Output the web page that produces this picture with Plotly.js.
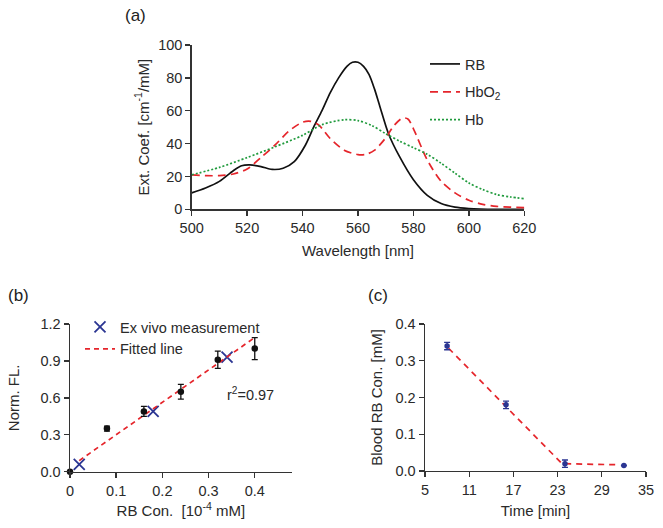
<!DOCTYPE html>
<html>
<head>
<meta charset="utf-8">
<script src="https://cdn.plot.ly/plotly-3.0.1.min.js"></script>
<style>html,body{margin:0;padding:0;background:#fff;}#chart{width:663px;height:528px;}</style>
</head>
<body>
<div id="chart"></div>
<script>
// ---- Panel (a): extinction spectra ----
const wlRB = [500,505,510,515,518,521,525,529,533,537,541,544,547,550,553,556,558,560,562,564,566,568,571,575,580,585,590,595,600,610,620];
const rbExt = [10,13,17,23.5,26.5,27,26,24.3,25,29,39,50,60,71,80,87,89.5,89.5,87,82,73,62,46,32,18,8.5,3.5,1.3,0.5,0,0];
const wlHbO2 = [500,505,510,515,520,525,530,535,540,543,546,550,555,560,563,566,570,573,576,578,580,585,590,595,600,605,610,615,620];
const hbo2Ext = [21,20.5,20.5,21.5,24.5,31.5,39,47.5,53,53.5,51,43,36,33.3,33.5,36,43.5,51,55.5,55,49,30,17,10,5.5,3,1.8,1.3,1];
const wlHb = [500,510,520,530,540,547,555,560,565,570,575,580,585,590,595,600,605,610,615,620];
const hbExt = [21,25.5,31.5,38,45,51.5,54.5,54,51,46,41.5,37.5,33.5,28,22,16,12,9,7.5,6.5];

// ---- Panel (b): fluorescence calibration ----
const rbCon = [0,0.08,0.16,0.24,0.32,0.40];
const normFL = [0,0.35,0.49,0.65,0.91,1.00];
const normFLerr = [0,0.02,0.04,0.06,0.07,0.09];
const exVivoX = [0.02,0.18,0.34];
const exVivoY = [0.06,0.49,0.93];
const fitX = [0.02,0.40];
const fitY = [0.09,1.09];

// ---- Panel (c): blood concentration vs time ----
const timeMin = [8,16,24,32];
const bloodCon = [0.34,0.18,0.02,0.015];
const bloodErr = [0.01,0.01,0.01,0];
const timeFitX = [8.2,23.6,31];
const timeFitY = [0.334,0.02,0.017];

const W = 663, H = 528;
const px = v => v / W;
const py = v => 1 - v / H;

const RED = '#e5252b', GREEN = '#1f9a3c', NAVY = '#2b3592', AX = '#333333';
const FONT = 'Liberation Sans, Arial, sans-serif';

const traces = [
  {x: wlRB, y: rbExt, name: 'RB', type: 'scatter', mode: 'lines', line: {color: '#111', width: 1.7, shape: 'spline', smoothing: 0.8}, xaxis: 'x', yaxis: 'y', legend: 'legend'},
  {x: wlHbO2, y: hbo2Ext, name: 'HbO<sub>2</sub>', type: 'scatter', mode: 'lines', line: {color: RED, width: 1.7, dash: '8px,5px', shape: 'spline', smoothing: 0.8}, xaxis: 'x', yaxis: 'y', legend: 'legend', legendgroup: 'g2'},
  {x: wlHb, y: hbExt, name: 'Hb', type: 'scatter', mode: 'lines', line: {color: GREEN, width: 1.7, dash: '2px,2px', shape: 'spline', smoothing: 0.8}, xaxis: 'x', yaxis: 'y', legend: 'legend', legendgroup: 'g3'},

  {x: exVivoX, y: exVivoY, name: 'Ex vivo measurement', type: 'scatter', mode: 'markers', marker: {symbol: 'x-thin', size: 11, line: {color: NAVY, width: 1.8}, color: NAVY}, xaxis: 'x2', yaxis: 'y2', legend: 'legend2', cliponaxis: false},
  {x: fitX, y: fitY, name: 'Fitted line', type: 'scatter', mode: 'lines', line: {color: RED, width: 1.7, dash: '5px,4px'}, xaxis: 'x2', yaxis: 'y2', legend: 'legend2'},
  {x: rbCon, y: normFL, name: 'data', showlegend: false, type: 'scatter', mode: 'markers', marker: {color: '#111', size: 6.5}, error_y: {type: 'data', array: normFLerr, color: '#111', thickness: 1.3, width: 3}, xaxis: 'x2', yaxis: 'y2', cliponaxis: false},

  {x: timeFitX, y: timeFitY, name: 'fit', showlegend: false, type: 'scatter', mode: 'lines', line: {color: RED, width: 1.7, dash: '6px,5px'}, xaxis: 'x3', yaxis: 'y3'},
  {x: timeMin, y: bloodCon, name: 'blood', showlegend: false, type: 'scatter', mode: 'markers', marker: {color: NAVY, size: 5.5}, error_y: {type: 'data', array: bloodErr, color: NAVY, thickness: 1.3, width: 3}, xaxis: 'x3', yaxis: 'y3', cliponaxis: false}
];

const axBase = {showline: true, linecolor: AX, linewidth: 1.4, ticks: 'outside', ticklen: 5, tickwidth: 1.4, tickcolor: AX, showgrid: false, zeroline: false, mirror: false, tickfont: {family: FONT, size: 14.5, color: '#2a2a2a'}, automargin: false};
const titleFont = {family: FONT, size: 15, color: '#2a2a2a'};

const layout = {
  width: W, height: H,
  margin: {l: 0, r: 0, t: 0, b: 0},
  paper_bgcolor: '#fff', plot_bgcolor: '#fff',
  font: {family: FONT, color: '#2a2a2a'},
  xaxis: Object.assign({}, axBase, {domain: [px(191.7), px(524.3)], range: [500, 620], dtick: 20, anchor: 'y', title: {text: 'Wavelength [nm]', font: titleFont, standoff: 10}}),
  yaxis: Object.assign({}, axBase, {domain: [py(209.3), py(45)], range: [0, 100], dtick: 20, anchor: 'x', title: {text: 'Ext. Coef. [cm<sup>-1</sup>/mM]', font: titleFont, standoff: 5}}),
  xaxis2: Object.assign({}, axBase, {domain: [px(70), px(291.7)], range: [0, 0.48], tickvals: [0, 0.1, 0.2, 0.3, 0.4], ticktext: ['0', '0.1', '0.2', '0.3', '0.4'], anchor: 'y2', title: {text: 'RB Con.  [10<sup>-4</sup> mM]', font: titleFont, standoff: 8}}),
  yaxis2: Object.assign({}, axBase, {domain: [py(471.7), py(324)], range: [0, 1.2], dtick: 0.3, tickformat: '.1f', anchor: 'x2', title: {text: 'Norm. FL.', font: titleFont, standoff: 17}}),
  xaxis3: Object.assign({}, axBase, {domain: [px(425), px(646)], range: [5, 35], tickvals: [5, 11, 17, 23, 29, 35], anchor: 'y3', title: {text: 'Time [min]', font: titleFont, standoff: 8}}),
  yaxis3: Object.assign({}, axBase, {domain: [py(471), py(324)], range: [0, 0.4], dtick: 0.1, tickformat: '.1f', anchor: 'x3', title: {text: 'Blood RB Con. [mM]', font: titleFont, standoff: 9}}),
  legend: {x: px(425), y: py(48), xanchor: 'left', yanchor: 'top', bgcolor: 'rgba(0,0,0,0)', borderwidth: 0, font: {family: FONT, size: 14.5, color: '#2a2a2a'}, tracegroupgap: 6},
  legend2: {x: px(80), y: py(311), xanchor: 'left', yanchor: 'top', bgcolor: 'rgba(0,0,0,0)', borderwidth: 0, font: {family: FONT, size: 14.5, color: '#2a2a2a'}, tracegroupgap: 0},
  annotations: [
    {text: '(a)', xref: 'paper', yref: 'paper', x: px(135), y: py(15), xanchor: 'center', yanchor: 'middle', showarrow: false, font: {family: FONT, size: 17, color: '#222'}},
    {text: '(b)', xref: 'paper', yref: 'paper', x: px(18), y: py(295), xanchor: 'center', yanchor: 'middle', showarrow: false, font: {family: FONT, size: 17, color: '#222'}},
    {text: '(c)', xref: 'paper', yref: 'paper', x: px(378), y: py(295), xanchor: 'center', yanchor: 'middle', showarrow: false, font: {family: FONT, size: 17, color: '#222'}},
    {text: 'r<sup>2</sup>=0.97', xref: 'x2', yref: 'y2', x: 0.39, y: 0.63, xanchor: 'center', yanchor: 'middle', showarrow: false, font: {family: FONT, size: 14.5, color: '#2a2a2a'}}
  ],
  showlegend: true
};

Plotly.newPlot('chart', traces, layout, {displayModeBar: false, staticPlot: true});
</script>
</body>
</html>
